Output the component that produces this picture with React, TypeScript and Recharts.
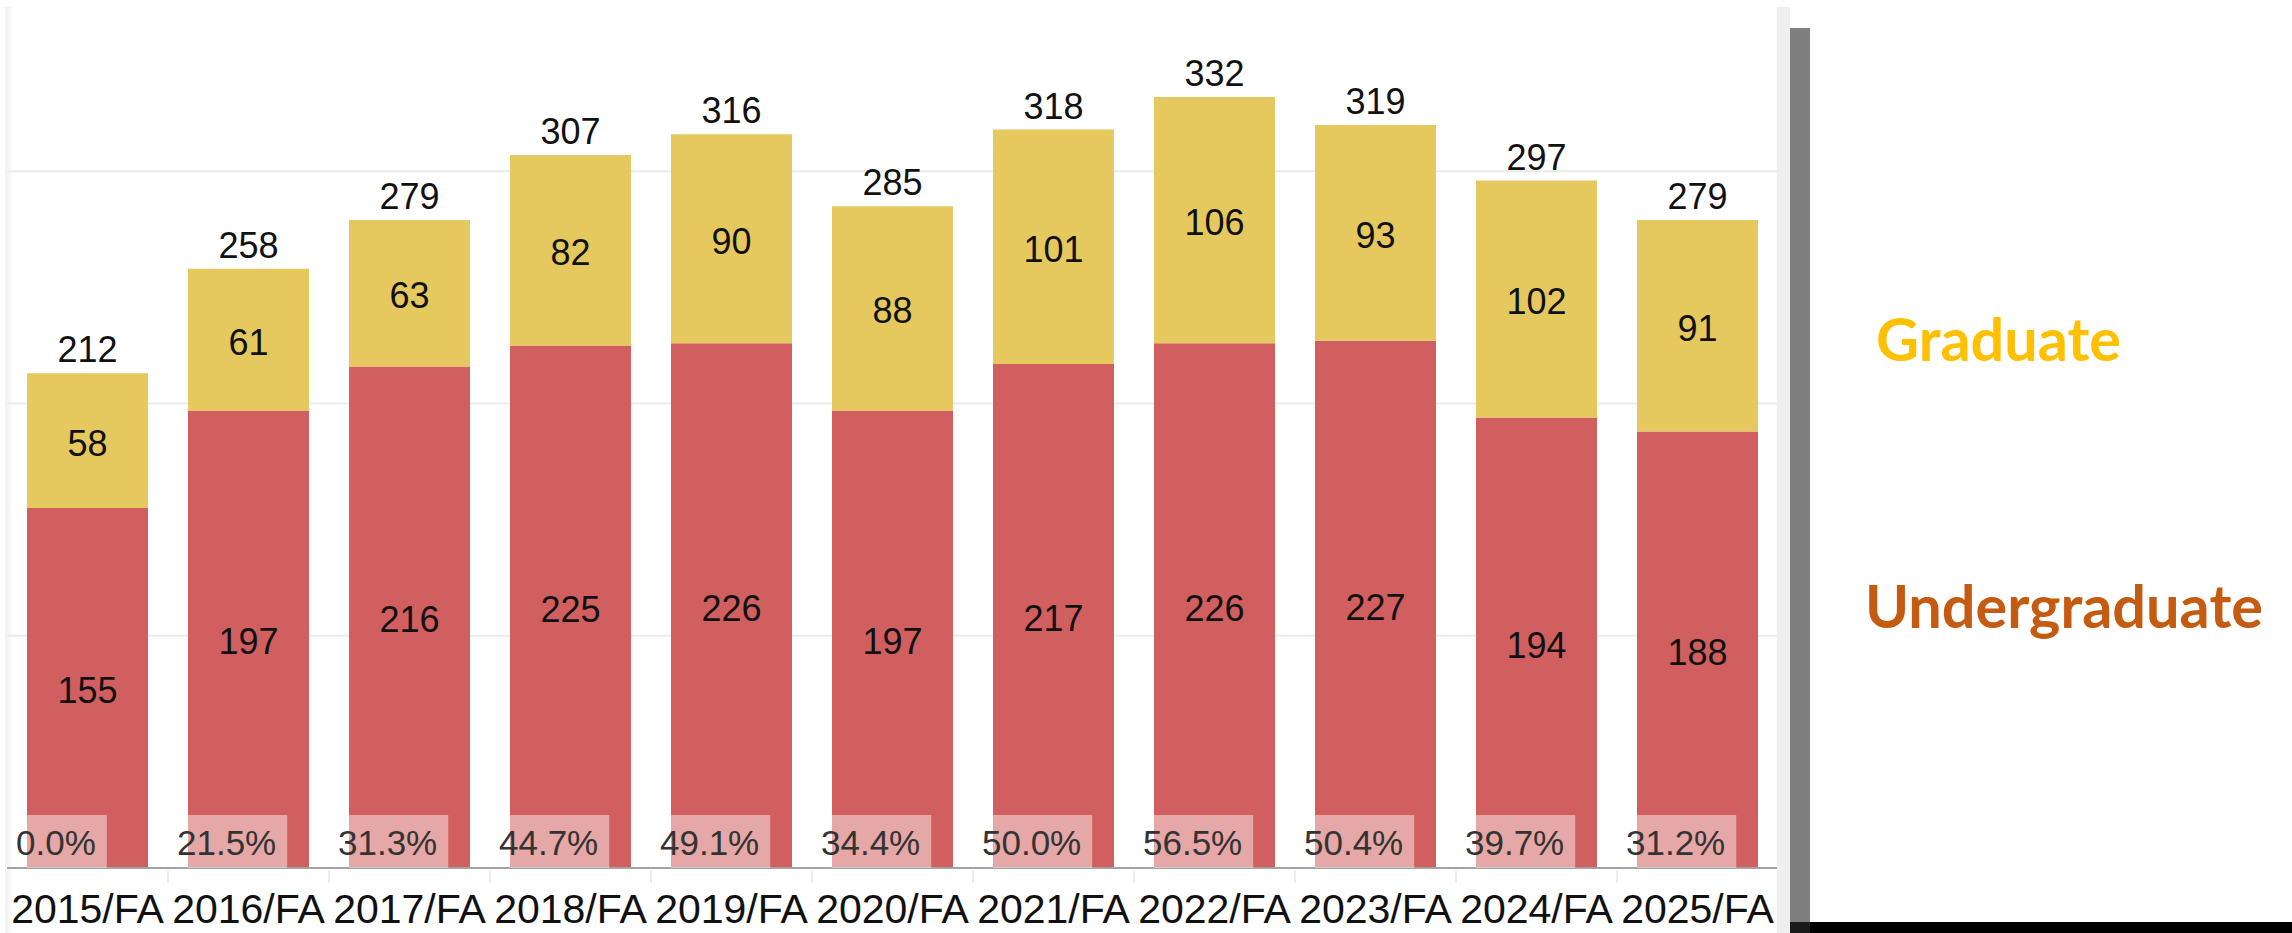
import React from 'react';
import { BarChart, Bar, XAxis, YAxis, CartesianGrid, LabelList } from 'recharts';

const terms = ['2015/FA', '2016/FA', '2017/FA', '2018/FA', '2019/FA', '2020/FA', '2021/FA', '2022/FA', '2023/FA', '2024/FA', '2025/FA'];
const undergraduate = [155, 197, 216, 225, 226, 197, 217, 226, 227, 194, 188];
const graduate = [58, 61, 63, 82, 90, 88, 101, 106, 93, 102, 91];
const totals = [212, 258, 279, 307, 316, 285, 318, 332, 319, 297, 279];
const growth = ['0.0%', '21.5%', '31.3%', '44.7%', '49.1%', '34.4%', '50.0%', '56.5%', '50.4%', '39.7%', '31.2%'];
const gridValues = [100, 200, 300];
const legendItems = ['Graduate', 'Undergraduate'];

const data = terms.map((term, i) => ({
  term,
  undergraduate: undergraduate[i],
  graduate: graduate[i],
  total: totals[i],
  growth: growth[i],
}));

const FONT = '"Liberation Sans", Arial, sans-serif';
const RED = '#D25F5F';
const GOLD = '#E5C85E';

const charW = (s: string) =>
  s.split('').reduce((a, c) => a + (c === '.' ? 0.278 : c === '%' ? 0.889 : 0.556), 0);

const InnerLabel = (props: any) => {
  const x = Number(props.x), y = Number(props.y), w = Number(props.width), h = Number(props.height);
  return (
    <text x={x + w / 2} y={y + h / 2} dy="0.42em" textAnchor="middle" fontFamily={FONT} fontSize={36} fill="#111">
      {props.value}
    </text>
  );
};

const TotalLabel = (props: any) => {
  const x = Number(props.x), y = Number(props.y), w = Number(props.width);
  return (
    <text x={x + w / 2} y={y - 11} textAnchor="middle" fontFamily={FONT} fontSize={36} fill="#111">
      {props.value}
    </text>
  );
};

const GrowthLabel = (props: any) => {
  const x = Number(props.x), y = Number(props.y), h = Number(props.height);
  const fs = 35;
  const s = String(props.value);
  const tw = charW(s) * fs;
  const bottom = y + h;
  return (
    <g>
      <rect x={x} y={bottom - 53} width={tw} height={53} fill="#ffffff" fillOpacity={0.45} />
      <text x={x - 11} y={bottom - 13} fontFamily={FONT} fontSize={fs} fill="#333">
        {s}
      </text>
    </g>
  );
};

const Tick = (props: any) => {
  const { x, y, payload, index } = props;
  return (
    <g>
      {index > 0 && (
        <line x1={x - 80.5} x2={x - 80.5} y1={y + 3} y2={y + 15} stroke="#ececec" strokeWidth={2} />
      )}
      <text x={x} y={y + 55} textAnchor="middle" fontFamily={FONT} fontSize={41} fill="#111">
        {payload.value}
      </text>
    </g>
  );
};

export default function App() {
  return (
    <div style={{ position: 'absolute', left: 0, top: 0, width: 2292, height: 933, background: '#fff', overflow: 'hidden' }}>
      <div style={{ position: 'absolute', left: 5, top: 7, width: 7, height: 926, background: 'linear-gradient(to right, #f1f1f1, #fbfbfb)' }} />
      <div style={{ position: 'absolute', left: 0, top: 0 }}>
        <BarChart width={1790} height={933} data={data} margin={{ top: 32, right: 12, bottom: 0, left: 7 }} barSize={121}>
          <CartesianGrid vertical={false} stroke="#ebebeb" strokeWidth={2} syncWithTicks />
          <YAxis hide domain={[0, 360]} ticks={gridValues} />
          <XAxis
            dataKey="term"
            height={65}
            interval={0}
            tickLine={false}
            tickSize={0}
            tickMargin={0}
            axisLine={{ stroke: '#a3a3a3', strokeWidth: 2 }}
            tick={<Tick />}
          />
          <Bar dataKey="undergraduate" stackId="a" fill={RED} isAnimationActive={false}>
            <LabelList dataKey="undergraduate" content={<InnerLabel />} />
            <LabelList dataKey="growth" content={<GrowthLabel />} />
          </Bar>
          <Bar dataKey="graduate" stackId="a" fill={GOLD} isAnimationActive={false}>
            <LabelList dataKey="graduate" content={<InnerLabel />} />
            <LabelList dataKey="total" content={<TotalLabel />} />
          </Bar>
        </BarChart>
      </div>
      <div style={{ position: 'absolute', left: 1777, top: 7, width: 13, height: 926, background: '#efefef' }} />
      <div style={{ position: 'absolute', left: 1790, top: 28, width: 20, height: 894, background: '#7f7f7f' }} />
      <div style={{ position: 'absolute', left: 1790, top: 922, width: 20, height: 11, background: '#1a1a1a' }} />
      <div style={{ position: 'absolute', left: 1810, top: 922, width: 482, height: 11, background: '#000' }} />
      <svg style={{ position: 'absolute', left: 1810, top: 0 }} width={482} height={922}>
        <text x={66} y={361} fontFamily='Lato, "Open Sans", sans-serif' fontWeight={700} fontSize={60} fill="#FFC000" textLength={245} lengthAdjust="spacingAndGlyphs">
          {legendItems[0]}
        </text>
        <text x={55} y={628} fontFamily='Lato, "Open Sans", sans-serif' fontWeight={700} fontSize={60} fill="#C55A11" textLength={398} lengthAdjust="spacingAndGlyphs">
          {legendItems[1]}
        </text>
      </svg>
    </div>
  );
}
